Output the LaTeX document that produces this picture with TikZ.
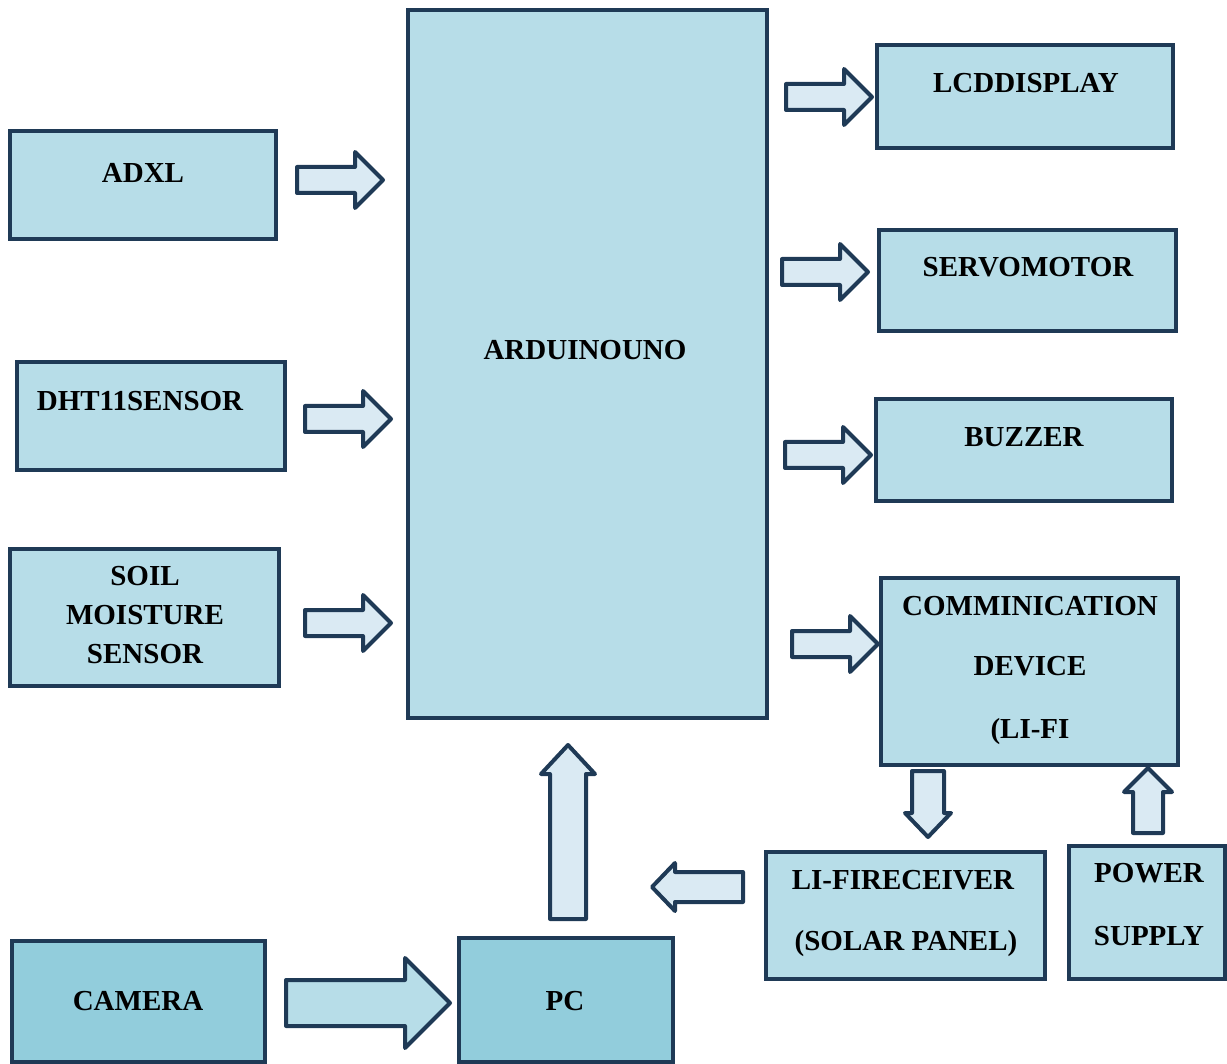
\documentclass[tikz,border=0pt]{standalone}
\usepackage{fontspec}
\setmainfont{Liberation Serif}
\definecolor{boxfill}{HTML}{B7DDE8}
\definecolor{darkfill}{HTML}{92CDDC}
\definecolor{arrfill}{HTML}{DAEAF3}
\definecolor{edge}{HTML}{1F3A56}
\tikzset{
  box/.style={draw=edge, fill=boxfill, line width=3.5, inner sep=0, line join=miter},
  darkbox/.style={box, fill=darkfill},
  lbl/.style={font=\bfseries\fontsize{29}{34}\selectfont, inner sep=0, text height=19pt, text depth=0pt, text=black},
  blk/.style={draw=edge, fill=arrfill, line width=4, line join=round},
  blkdark/.style={blk, fill=boxfill}
}
% #1 style, #2 start point, #3 angle, #4 length, #5 shaft half width, #6 head half width, #7 head length
\newcommand\barrow[7][]{%
  \draw[blk,#1,shift={#2},rotate=#3] (0,-#5) -- ({#4-#7},-#5) -- ({#4-#7},-#6) -- (#4,0) -- ({#4-#7},#6) -- ({#4-#7},#5) -- (0,#5) -- cycle;}
\begin{document}
\begin{tikzpicture}[x=1pt,y=-1pt]
\useasboundingbox (0,0) rectangle (1227,1064);
% boxes
\node[box, minimum width=266, minimum height=108] (adxl) at (143,185) {};
\node[box, minimum width=268, minimum height=108] (dht) at (151,416) {};
\node[box, minimum width=269, minimum height=137] (soil) at (144.5,617.5) {};
\node[box, minimum width=359, minimum height=708] (ard) at (587.5,364) {};
\node[box, minimum width=296, minimum height=103] (lcd) at (1025,96.5) {};
\node[box, minimum width=297, minimum height=101] (servo) at (1027.5,280.5) {};
\node[box, minimum width=296, minimum height=102] (buzz) at (1024,450) {};
\node[box, minimum width=297, minimum height=187] (comm) at (1029.5,671.5) {};
\node[box, minimum width=279, minimum height=127] (lifi) at (905.5,915.5) {};
\node[box, minimum width=156, minimum height=133] (power) at (1147,912.5) {};
\node[darkbox, minimum width=253, minimum height=121] (cam) at (138.5,1001.5) {};
\node[darkbox, minimum width=214, minimum height=124] (pc) at (566,1000) {};
% labels
\node[lbl] (adxl-t) at (143,173) {ADXL};
\node[lbl] (dht-t) at (140,401) {DHT11SENSOR};
\node[lbl] (soil-t1) at (145,576) {SOIL};
\node[lbl] (soil-t2) at (145,615) {MOISTURE};
\node[lbl] (soil-t3) at (145,654) {SENSOR};
\node[lbl] (ard-t) at (585,350) {ARDUINOUNO};
\node[lbl] (lcd-t) at (1026,83) {LCDDISPLAY};
\node[lbl] (servo-t) at (1028,267) {SERVOMOTOR};
\node[lbl] (buzz-t) at (1024,437) {BUZZER};
\node[lbl] (comm-t1) at (1030,606) {COMMINICATION};
\node[lbl] (comm-t2) at (1030,666) {DEVICE};
\node[lbl] (comm-t3) at (1030,729) {(LI-FI};
\node[lbl] (lifi-t1) at (903,880) {LI-FIRECEIVER};
\node[lbl] (lifi-t2) at (906,941) {(SOLAR PANEL)};
\node[lbl] (power-t1) at (1149,873) {POWER};
\node[lbl] (power-t2) at (1149,936) {SUPPLY};
\node[lbl] (cam-t) at (138,1001) {CAMERA};
\node[lbl] (pc-t) at (565,1001) {PC};
% block arrows
\barrow{(297,180)}{0}{86}{13}{28}{28}
\barrow{(305,419)}{0}{86}{13}{28}{28}
\barrow{(305,623)}{0}{86}{13}{28}{28}
\barrow{(786,97)}{0}{86}{13}{28}{28}
\barrow{(782,272)}{0}{86}{13}{28}{28}
\barrow{(785,455)}{0}{86}{13}{28}{28}
\barrow{(792,644)}{0}{86}{13}{28}{28}
\barrow{(928,771)}{-90}{66}{16}{23}{24}
\barrow{(1148,833)}{90}{65}{15}{24}{24}
\barrow{(743,887)}{180}{91}{15}{24}{23}
\barrow{(568,919)}{90}{174}{18}{27}{29}
\barrow[blkdark]{(286,1003)}{0}{164}{23}{45}{45}
\end{tikzpicture}
\end{document}
